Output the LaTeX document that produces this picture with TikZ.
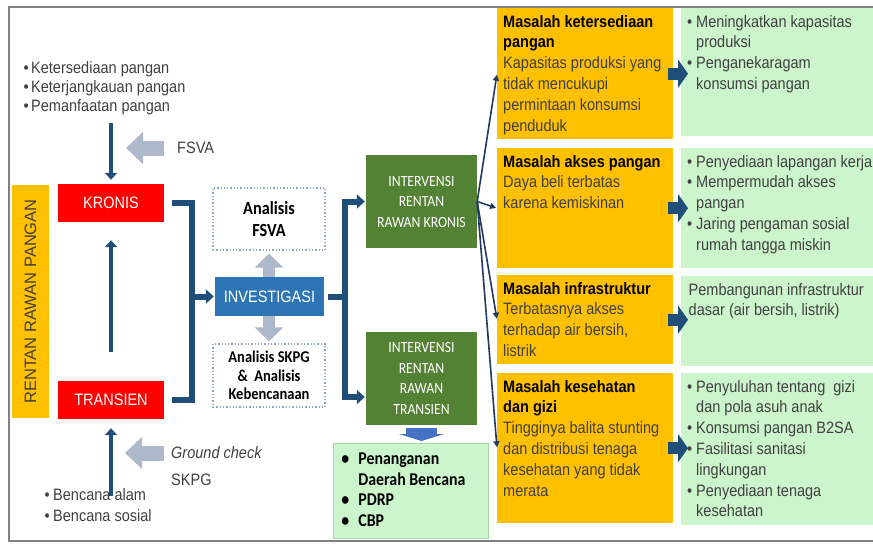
\documentclass[tikz,border=0pt]{standalone}
\usepackage{fontspec}
\setmainfont{Liberation Sans}[FakeStretch=0.88]
\newfontfamily\calibfont{Carlito}[FakeStretch=0.88]
\newfontfamily\widefont{Liberation Sans}
\usetikzlibrary{arrows.meta,calc,positioning}
\definecolor{rrpnavy}{HTML}{1F4E79}
\definecolor{rrpdeep}{HTML}{203864}
\definecolor{rrpsteel}{HTML}{ADB9CA}
\definecolor{rrpred}{HTML}{FF0000}
\definecolor{rrpyellow}{HTML}{FFC000}
\definecolor{rrpgreen}{HTML}{548235}
\definecolor{rrpblue}{HTML}{2E75B6}
\definecolor{rrpmint}{HTML}{CCF5CC}
\definecolor{rrpmintline}{HTML}{A8D8A8}
\definecolor{rrpdot}{HTML}{8EA4C0}
\definecolor{rrpgray}{HTML}{404040}
\definecolor{rrpframe}{HTML}{808080}
\definecolor{rrpdrop}{HTML}{4472C4}
\newcommand{\basesize}{\fontsize{16.5}{20.8}\selectfont}
\newcommand{\cellbox}[3]{\parbox[t][#2][t]{#1}{\raggedright #3}}
\newcommand{\bul}[2][9pt]{\par\hangindent=#1\hangafter=1\makebox[#1][l]{•}#2}
\newcommand{\issuetitle}[1]{{\color{black}\bfseries #1}}

\begin{document}
\begin{tikzpicture}[
  x=1pt,y=-1pt,
  font=\basesize,
  navyarrow/.style={-{Triangle[length=7pt,width=12pt]}, line width=4pt, draw=rrpnavy},
  navyline/.style={line width=6pt, draw=rrpnavy},
  steelarrow/.style={-{Triangle[length=17pt,width=31pt]}, line width=15pt, draw=rrpsteel},
  steelpair/.style={{Triangle[length=14pt,width=28pt]}-{Triangle[length=14pt,width=28pt]}, line width=12pt, draw=rrpsteel},
  fan/.style={-{Triangle[length=6pt,width=6pt]}, line width=1.6pt, draw=rrpdeep, shorten >=1pt},
  wide/.style={-{Triangle[length=10pt,width=28pt]}, line width=12pt, draw=rrpnavy},
  drop/.style={-{Triangle[length=7pt,width=45pt]}, line width=31pt, draw=rrpdrop},
  redbox/.style={fill=rrpred, text=white, minimum width=106pt, minimum height=38pt, inner sep=0pt},
  interv/.style={fill=rrpgreen, text=white, minimum width=111pt, minimum height=93pt, inner sep=0pt, align=center, font=\calibfont\fontsize{15.6}{20.5}\selectfont},
  dotbox/.style={draw=rrpdot, dotted, line width=1.3pt, minimum width=112pt, inner sep=0pt, align=center},
  issue/.style={fill=rrpyellow, anchor=north west, inner xsep=6pt, inner ysep=7pt, text=rrpgray},
  action/.style={fill=rrpmint, anchor=north west, inner xsep=6pt, inner ysep=7pt, text=rrpgray},
]
\useasboundingbox (0,0) rectangle (873,544);
\clip (0,0) rectangle (873,544);
\draw[rrpframe, line width=1.5pt] (873,7) -- (9,7) -- (9,541) -- (873,541);

\node[fill=rrpyellow, rotate=90, minimum width=233pt, minimum height=37pt, inner sep=0pt, text=rrpgray, font=\widefont\fontsize{16.5}{20}\selectfont] (rrp) at (30.5,301.5) {RENTAN RAWAN PANGAN};

\node[anchor=north west, inner sep=0pt, text=rrpgray] (toplist) at (23.5,61)
  {\parbox[t]{175pt}{\fontsize{16.5}{19}\selectfont\bul[7.5pt]{Ketersediaan pangan}\bul[7.5pt]{Keterjangkauan pangan}\bul[7.5pt]{Pemanfaatan pangan}}};
\node[redbox] (kronis) at (111,203) {KRONIS};
\node[redbox] (transien) at (111,400) {TRANSIEN};
\node[anchor=north west, inner sep=0pt, text=rrpgray] (botlist) at (44.5,488)
  {\parbox[t]{150pt}{\fontsize{16.5}{21}\selectfont\bul[8.5pt]{Bencana alam}\bul[8.5pt]{Bencana sosial}}};
\node[anchor=west, inner sep=0pt, text=rrpgray] (fsva) at (177,148) {FSVA};
\node[anchor=west, inner sep=0pt, text=rrpgray, font=\basesize\itshape] (gcheck) at (171,453) {Ground check};
\node[anchor=west, inner sep=0pt, text=rrpgray] (skpg) at (171,480) {SKPG};

\draw[navyarrow, shorten <=8.5pt, shorten >=4pt] (toplist.south -| kronis.north) -- (kronis.north);
\draw[navyarrow, shorten <=29pt, shorten >=18pt] (transien.north) -- (kronis.south);
\draw[navyarrow, shorten <=-8pt, shorten >=9pt] (botlist.north -| transien.south) -- (transien.south);
\draw[steelarrow, shorten <=13pt, shorten >=15pt] (fsva.west) -- (fsva.west -| kronis.center);
\draw[steelarrow, shorten <=7pt, shorten >=14pt] (gcheck.west) -- (gcheck.west -| transien.center);

\node[dotbox, minimum height=62pt, font=\calibfont\bfseries\fontsize{18.5}{22}\selectfont] (anfsva) at (269,219) {Analisis\\FSVA};
\node[dotbox, minimum height=63pt, font=\calibfont\bfseries\fontsize{16.5}{18.3}\selectfont] (anskpg) at (269,375.5) {Analisis SKPG\\\&~~Analisis\\Kebencanaan};
\draw[steelpair, shorten <=3pt, shorten >=2pt] (anfsva.south) -- (anskpg.north);
\node[fill=rrpblue, text=white, minimum width=109pt, minimum height=39pt, inner sep=0pt] (invest) at (269.5,296.5) {INVESTIGASI};

\draw[navyline] ([xshift=8pt]kronis.east) -| ([xshift=28pt]transien.east) -- ([xshift=8pt]transien.east);
\draw[navyline, -{Triangle[length=8pt,width=14pt]}, shorten >=1pt] ([xshift=28pt]kronis.east |- invest.west) -- (invest.west);

\node[interv] (intk) at (421.5,201.5) {INTERVENSI\\RENTAN\\RAWAN KRONIS};
\node[interv] (intt) at (421.5,378.5) {INTERVENSI\\RENTAN\\RAWAN\\TRANSIEN};
\coordinate (tin) at ([yshift=-18.5pt]intt.west);
\draw[navyline] ([xshift=4pt]invest.east) -- ++(17,0) coordinate (split);
\draw[navyline, line cap=rect] (split |- intk.west) -- (split |- tin);
\draw[navyline, -{Triangle[length=8pt,width=14pt]}, shorten >=1pt] (split |- intk.west) -- (intk.west);
\draw[navyline, -{Triangle[length=8pt,width=14pt]}, shorten >=1pt] (split |- tin) -- (tin);

\node[fill=rrpmint, draw=rrpmintline, line width=.8pt, anchor=north west, inner xsep=8pt, inner ysep=9.5pt, font=\calibfont\bfseries\fontsize{18}{20.5}\selectfont] (actions) at (333,443)
  {\parbox[t][76pt][t]{139pt}{\raggedright\bul[17pt]{Penanganan\newline Daerah Bencana}\bul[17pt]{PDRP}\bul[17pt]{CBP}}};
\draw[drop, shorten <=3pt, shorten >=2pt] (intt.south) -- (intt.south |- actions.north);

\node[issue] (m1) at (497,8) {\cellbox{164pt}{117pt}{\issuetitle{Masalah ketersediaan\\pangan}\\Kapasitas produksi yang\\tidak mencukupi\\permintaan konsumsi\\penduduk}};
\node[issue] (m2) at (497,148) {\cellbox{164pt}{106pt}{\issuetitle{Masalah akses pangan}\\Daya beli terbatas\\karena kemiskinan}};
\node[issue] (m3) at (497,275) {\cellbox{164pt}{75pt}{\issuetitle{Masalah infrastruktur}\\Terbatasnya akses\\terhadap air bersih,\\listrik}};
\node[issue] (m4) at (497,373) {\cellbox{164pt}{136pt}{\issuetitle{Masalah kesehatan\\dan gizi}\\Tingginya balita stunting\\dan distribusi tenaga\\kesehatan yang tidak\\merata}};

\node[action] (s1) at (681,8) {\cellbox{188pt}{114pt}{\bul{Meningkatkan kapasitas\newline produksi}\bul{Penganekaragam\newline konsumsi pangan}}};
\node[action] (s2) at (681,148) {\cellbox{188pt}{106pt}{\bul{Penyediaan lapangan kerja}\bul{Mempermudah akses\newline pangan}\bul{Jaring pengaman sosial\newline rumah tangga miskin}}};
\node[action] (s3) at (681,276) {\cellbox{188pt}{76pt}{\hspace*{1.5pt}Pembangunan infrastruktur\\\hspace*{1.5pt}dasar (air bersih, listrik)}};
\node[action] (s4) at (681,373) {\cellbox{188pt}{138pt}{\bul{Penyuluhan tentang~~gizi\newline dan pola asuh anak}\bul{Konsumsi pangan B2SA}\bul{Fasilitasi sanitasi\newline lingkungan}\bul{Penyediaan tenaga\newline kesehatan}}};

\foreach \i in {1,...,4}{\draw[fan] (intk.east) -- (m\i.west);}
\foreach \i in {1,...,4}{\draw[wide] ($(m\i.east)+(-5,0)$) -- ($(m\i.east -| s\i.west)+(7,0)$);}
\end{tikzpicture}
\end{document}
